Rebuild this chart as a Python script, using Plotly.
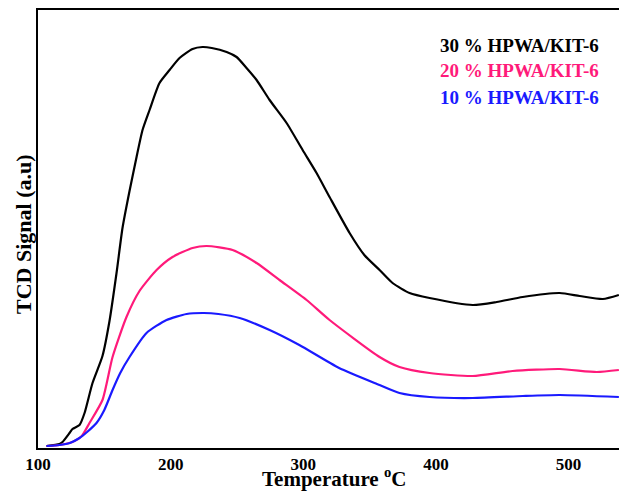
import plotly.graph_objects as go

# Temperature (°C) and TCD signal (a.u.)
t_30 = [106.4, 116.2, 118.5, 123.8, 126.0, 131.3, 135.1, 141.1, 148.6, 153.9, 159.2, 163.7, 169.0,
        174.3, 178.8, 184.1, 191.6, 199.2, 206.7, 216.5, 224.0, 231.0, 242.2, 249.7, 257.2, 264.8,
        274.6, 287.4, 299.5, 310.0, 319.8, 334.9, 346.0, 357.5, 367.3, 380.1, 395.2, 427.7, 445.8,
        465.4, 493.3, 508.4, 525.8, 537.9]
s_30 = [2, 4, 6, 15, 19, 23, 35, 65, 92, 127, 175, 220, 257,
        291, 318, 338, 365, 378, 390, 399, 401, 400, 396, 391, 380, 368,
        348, 325, 298, 275, 251, 215, 193, 178, 165, 155, 150, 143, 146,
        151, 155, 152, 149, 153]

t_20 = [106.4, 116.2, 126.0, 133.0, 138.8, 148.6, 156.2, 166.7, 176.5, 189.4, 201.4, 216.5, 227.1,
        246.7, 264.8, 282.1, 302.5, 319.8, 357.5, 372.5, 395.2, 427.7, 457.8, 493.3, 521.2, 537.9]
s_20 = [2, 3, 6, 12, 25, 48, 91, 131, 157, 178, 191, 200, 202,
        198, 185, 168, 148, 128, 91, 81, 75, 72, 77, 79, 76, 78]

t_10 = [106.4, 116.2, 124.0, 131.3, 137.0, 144.1, 150.0, 156.2, 162.0, 169.0, 181.8, 196.9, 212.0,
        225.0, 236.0, 252.0, 274.6, 297.0, 327.0, 357.5, 372.5, 395.2, 427.7, 465.4, 493.3, 537.9]
s_10 = [2, 3, 5, 10, 16, 25, 38, 58, 75, 91, 115, 128, 134,
        135, 134, 130, 118, 103, 80, 63, 55, 51, 50, 52, 53, 51]

labels = ["30 % HPWA/KIT-6", "20 % HPWA/KIT-6", "10 % HPWA/KIT-6"]
colors = ["#000000", "#ff1a7a", "#1a1aff"]
x_ticks = [100, 200, 300, 400, 500]

FONT = "Liberation Serif"

fig = go.Figure()
for t, s, lab, c in zip([t_30, t_20, t_10], [s_30, s_20, s_10], labels, colors):
    fig.add_trace(go.Scatter(x=t, y=s, mode="lines", name=lab,
                             line=dict(color=c, width=2.2, shape="spline", smoothing=0.6)))

for i, (lab, c) in enumerate(zip(labels, colors)):
    fig.add_annotation(text=f"<b>{lab}</b>", xref="paper", yref="paper",
                       x=(601 - 38) / 581, y=(448 - 45 - i * 26) / 438,
                       xanchor="right", yanchor="middle", showarrow=False,
                       font=dict(family=FONT, size=19, color=c))

fig.add_annotation(text="<b>Temperature <sup>o</sup>C</b>", xref="paper", yref="paper",
                   x=(334 - 38) / 581, y=(448 - 492) / 438, xanchor="center", yanchor="bottom",
                   showarrow=False, borderpad=0,
                   font=dict(family=FONT, size=21, color="black"))
fig.add_annotation(text="<b>TCD Signal (a.u)</b>", xref="paper", yref="paper",
                   x=(23 - 38) / 581, y=(448 - 234) / 438, xanchor="center", yanchor="middle",
                   textangle=-90, showarrow=False, font=dict(family=FONT, size=22, color="black"))

fig.update_layout(
    width=619, height=492,
    margin=dict(l=38, r=0, t=10, b=44),
    paper_bgcolor="white", plot_bgcolor="white",
    showlegend=False,
    xaxis=dict(range=[100, 538], tickvals=x_ticks, ticktext=[f"<b>{v}</b>" for v in x_ticks],
               showgrid=False, zeroline=False, showline=True, linecolor="black", linewidth=2,
               mirror=True, ticks="outside", ticklen=0, tickwidth=0,
               tickfont=dict(family=FONT, size=17, color="black")),
    yaxis=dict(range=[0, 438], showticklabels=False, showgrid=False, zeroline=False,
               showline=True, linecolor="black", linewidth=2, mirror=False, ticks=""),
)

fig.write_html("out.html")
